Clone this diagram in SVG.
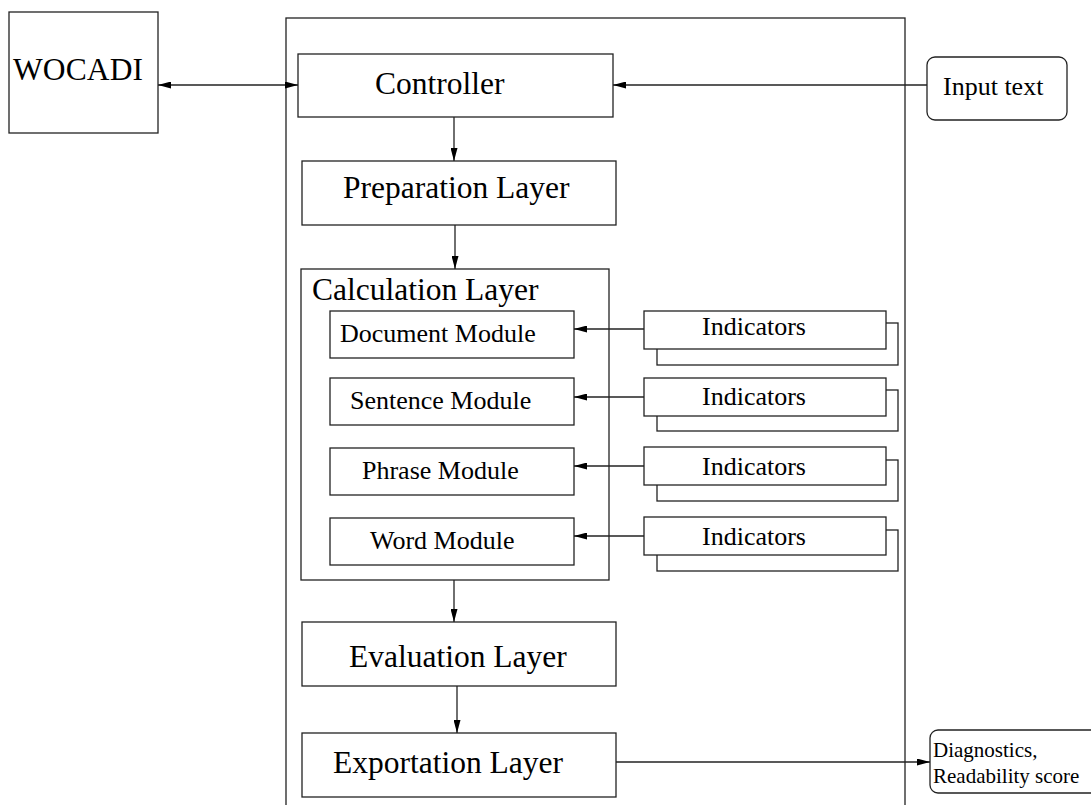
<svg xmlns="http://www.w3.org/2000/svg" width="1091" height="805" viewBox="0 0 1091 805">
<style>
.b{fill:#fff;stroke:#222;stroke-width:1.3}
.n{fill:none;stroke:#222;stroke-width:1.3}
.c{fill:none;stroke:#222;stroke-width:1.3}
.big{font-family:"Liberation Serif","Times New Roman",serif;font-size:31.5px;fill:#000}
.mid{font-family:"Liberation Serif","Times New Roman",serif;font-size:26px;fill:#000}
.sm{font-family:"Liberation Serif","Times New Roman",serif;font-size:21px;fill:#000}
</style>
<defs>
<marker id="ah" viewBox="0 0 13 7" refX="13" refY="3.5" markerWidth="13" markerHeight="7" markerUnits="userSpaceOnUse" orient="auto-start-reverse">
<path d="M0,0 L13,3.5 L0,7 Z" fill="#000"/>
</marker>
</defs>
<rect width="1091" height="805" fill="#fff"/>

<g id="container"><rect class="n" x="286" y="18" width="619" height="800"/></g>

<g id="wocadi"><rect class="b" x="9" y="12" width="149" height="121"/><text class="big" x="13" y="80" textLength="130">WOCADI</text></g>

<g id="controller"><rect class="b" x="298" y="54" width="315" height="63"/><text class="big" x="375" y="94">Controller</text></g>

<g id="preparation"><rect class="b" x="302" y="161" width="314" height="64"/><text class="big" x="343" y="198">Preparation Layer</text></g>

<g id="calculation"><rect class="b" x="301" y="269" width="308" height="311"/><text class="big" x="312" y="300">Calculation Layer</text></g>

<g id="document"><rect class="b" x="330" y="311" width="244" height="47"/><text class="mid" x="340" y="342">Document Module</text></g>
<g id="sentence"><rect class="b" x="330" y="378" width="244" height="47"/><text class="mid" x="350" y="409">Sentence Module</text></g>
<g id="phrase"><rect class="b" x="330" y="448" width="244" height="47"/><text class="mid" x="362" y="479">Phrase Module</text></g>
<g id="word"><rect class="b" x="330" y="518" width="244" height="47"/><text class="mid" x="370" y="549">Word Module</text></g>

<g id="ind1"><rect class="b" x="657" y="323" width="241" height="42"/><rect class="b" x="644" y="311" width="242" height="38"/><text class="mid" x="702" y="335">Indicators</text></g>
<g id="ind2"><rect class="b" x="657" y="390" width="241" height="41"/><rect class="b" x="644" y="378" width="242" height="38"/><text class="mid" x="702" y="405">Indicators</text></g>
<g id="ind3"><rect class="b" x="657" y="460" width="241" height="41"/><rect class="b" x="644" y="447" width="242" height="38"/><text class="mid" x="702" y="475">Indicators</text></g>
<g id="ind4"><rect class="b" x="657" y="530" width="241" height="41"/><rect class="b" x="644" y="517" width="242" height="38"/><text class="mid" x="702" y="545">Indicators</text></g>

<g id="evaluation"><rect class="b" x="302" y="622" width="314" height="64"/><text class="big" x="349" y="667">Evaluation Layer</text></g>
<g id="exportation"><rect class="b" x="302" y="733" width="314" height="64"/><text class="big" x="333" y="773">Exportation Layer</text></g>

<g id="input"><rect class="b" x="927" y="57" width="140" height="63" rx="8"/><text class="mid" x="943" y="95">Input text</text></g>
<g id="diagnostics"><rect class="b" x="930" y="730" width="170" height="63" rx="8"/><text class="sm" x="933" y="757">Diagnostics,</text><text class="sm" x="933" y="783">Readability score</text></g>

<g id="connectors">
<line class="c" x1="158" y1="85" x2="298" y2="85" marker-start="url(#ah)" marker-end="url(#ah)"/>
<line class="c" x1="927" y1="85" x2="613" y2="85" marker-end="url(#ah)"/>
<line class="c" x1="454" y1="117" x2="454" y2="161" marker-end="url(#ah)"/>
<line class="c" x1="455" y1="225" x2="455" y2="269" marker-end="url(#ah)"/>
<line class="c" x1="644" y1="329" x2="574" y2="329" marker-end="url(#ah)"/>
<line class="c" x1="644" y1="397" x2="574" y2="397" marker-end="url(#ah)"/>
<line class="c" x1="644" y1="466" x2="574" y2="466" marker-end="url(#ah)"/>
<line class="c" x1="644" y1="536" x2="574" y2="536" marker-end="url(#ah)"/>
<line class="c" x1="454" y1="580" x2="454" y2="622" marker-end="url(#ah)"/>
<line class="c" x1="457" y1="686" x2="457" y2="733" marker-end="url(#ah)"/>
<line class="c" x1="616" y1="762" x2="930" y2="762" marker-end="url(#ah)"/>
</g>
</svg>
